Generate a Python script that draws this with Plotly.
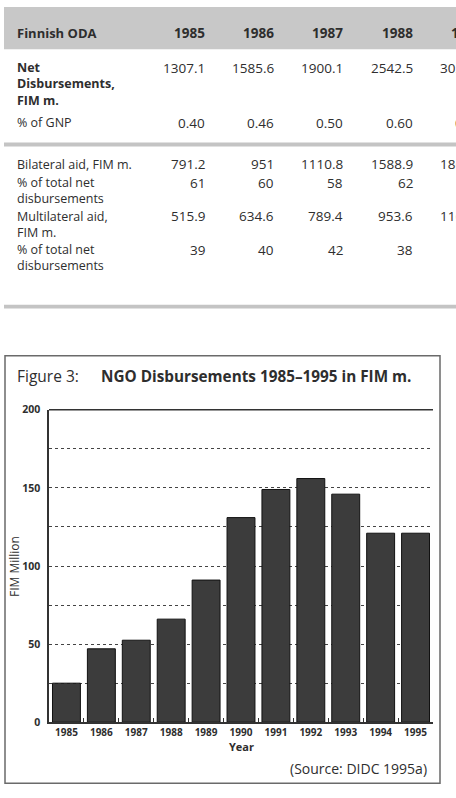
import plotly.graph_objects as go

# ---------------- data ----------------
years = ["1985", "1986", "1987", "1988", "1989", "1990", "1991", "1992", "1993", "1994", "1995"]
ngo_disbursements = [25, 47, 52.5, 66, 91, 131, 149, 156, 146, 121, 121]

table_years = ["1985", "1986", "1987", "1988", "1989"]
row_labels = [["Net", "Disbursements,", "FIM m."], ["% of GNP"], ["Bilateral aid, FIM m."],
              ["% of total net", "disbursements"], ["Multilateral aid,", "FIM m."],
              ["% of total net", "disbursements"]]
net_disb = ["1307.1", "1585.6", "1900.1", "2542.5", "3023.6"]
pct_gnp = ["0.40", "0.46", "0.50", "0.60", "0.63"]
bilateral = ["791.2", "951", "1110.8", "1588.9", "1860.1"]
bilateral_pct = ["61", "60", "58", "62", "62"]
multilateral = ["515.9", "634.6", "789.4", "953.6", "1163.5"]
multilateral_pct = ["39", "40", "42", "38", "38"]
table_rows = [net_disb, pct_gnp, bilateral, bilateral_pct, multilateral, multilateral_pct]

# ---------------- layout helpers ----------------
W, H = 456, 798
def px(x):
    return x / W
def py(y):
    return 1 - y / H

FONT = "Open Sans"
TXT = "#2e2e2e"

fig = go.Figure()
fig.add_trace(go.Bar(
    x=years, y=ngo_disbursements,
    marker=dict(color="#3c3c3c", line=dict(color="#111111", width=1)),
    width=0.8, showlegend=False,
))

shapes = []
annotations = []

# table header band and separators
shapes.append(dict(type="rect", xref="paper", yref="paper", x0=px(4), x1=px(460), y0=py(43), y1=py(0),
                   fillcolor="#c8c8c8", line=dict(width=0), layer="below"))
shapes.append(dict(type="rect", xref="paper", yref="paper", x0=px(4), x1=px(460), y0=py(142), y1=py(138),
                   fillcolor="#c4c4c4", line=dict(width=0), layer="below"))
shapes.append(dict(type="rect", xref="paper", yref="paper", x0=px(4), x1=px(460), y0=py(307), y1=py(303),
                   fillcolor="#c4c4c4", line=dict(width=0), layer="below"))

# header
annotations.append(dict(text="<b>Finnish ODA</b>", x=px(15), y=py(26), xanchor="left", yanchor="middle",
                        font=dict(size=13, color=TXT, family=FONT)))
col_right = [207, 276, 345, 415, 484]
for yr, xr in zip(table_years, col_right):
    annotations.append(dict(text=f"<b>{yr}</b>", x=px(xr), y=py(26), xanchor="right", yanchor="middle",
                            font=dict(size=13.5, color=TXT, family=FONT)))

row_y = [62, 118, 160, 179, 213, 247]
label_size = 12.5
for i, (lines, vals, yc) in enumerate(zip(row_labels, table_rows, row_y)):
    lh = 1.3 * label_size
    txt = "<br>".join(lines)
    if i == 0:
        txt = "<b>" + txt.replace("<br>", "</b><br><b>") + "</b>"
    annotations.append(dict(text=txt, x=px(15), y=py(yc + (len(lines) - 1) * lh / 2), xanchor="left",
                            yanchor="middle", align="left",
                            font=dict(size=label_size, color=TXT, family=FONT)))
    for v, xr in zip(vals, col_right):
        annotations.append(dict(text=v, x=px(xr), y=py(yc), xanchor="right", yanchor="middle",
                                font=dict(size=13.5, color=TXT, family=FONT)))

# chart box
shapes.append(dict(type="rect", xref="paper", yref="paper", x0=px(5), x1=px(440), y0=py(790), y1=py(355),
                   line=dict(color="#6a6a6a", width=1.5), fillcolor="rgba(0,0,0,0)"))
annotations.append(dict(text="Figure 3:", x=px(15), y=py(376), xanchor="left", yanchor="middle",
                        font=dict(size=15.5, color=TXT, family=FONT)))
annotations.append(dict(text="<b>NGO Disbursements 1985–1995 in FIM m.</b>", x=px(99), y=py(376),
                        xanchor="left", yanchor="middle", font=dict(size=15.3, color=TXT, family=FONT)))
# top frame line of plot
shapes.append(dict(type="line", xref="paper", yref="paper", x0=px(49), x1=px(433), y0=py(410), y1=py(410),
                   line=dict(color="#333333", width=1.5)))
annotations.append(dict(text="FIM Million", x=px(14), y=py(570), textangle=-90, xanchor="center",
                        yanchor="middle", font=dict(size=12, color=TXT, family=FONT)))
annotations.append(dict(text="<b>Year</b>", x=px(241), y=py(753), xanchor="center", yanchor="middle",
                        font=dict(size=11, color=TXT, family=FONT)))
annotations.append(dict(text="(Source: DIDC 1995a)", x=px(429), y=py(775), xanchor="right", yanchor="middle",
                        font=dict(size=14, color=TXT, family=FONT)))

for a in annotations:
    a.setdefault("xref", "paper")
    a.setdefault("yref", "paper")
    a["showarrow"] = False

ytickvals = [0, 25, 50, 75, 100, 125, 150, 175, 200]
ytext = ["<b>0</b>", "", "<b>50</b>", "", "<b>100</b>", "", "<b>150</b>", "", "<b>200</b>"]

fig.update_layout(
    width=W, height=H,
    margin=dict(l=0, r=0, t=0, b=0),
    paper_bgcolor="white", plot_bgcolor="white",
    bargap=0.2,
    shapes=shapes, annotations=annotations,
    xaxis=dict(domain=[px(49), px(433)], type="category", showline=True, linecolor="#333333", linewidth=1.5,
               ticks="inside", ticklen=4, tickcolor="#333333", tickson="boundaries", showgrid=False,
               tickfont=dict(size=10, color=TXT, family=FONT), tickprefix="<b>", ticksuffix="</b>"),
    yaxis=dict(domain=[py(728), py(410)], range=[0, 200], tickvals=ytickvals, ticktext=ytext,
               showline=True, linecolor="#333333", linewidth=1.5, ticks="", zeroline=False,
               showgrid=True, gridcolor="#444444", gridwidth=1, griddash="dot",
               tickfont=dict(size=10.5, color=TXT, family=FONT), ticklabelstandoff=5),
)

fig.write_html("out.html")
